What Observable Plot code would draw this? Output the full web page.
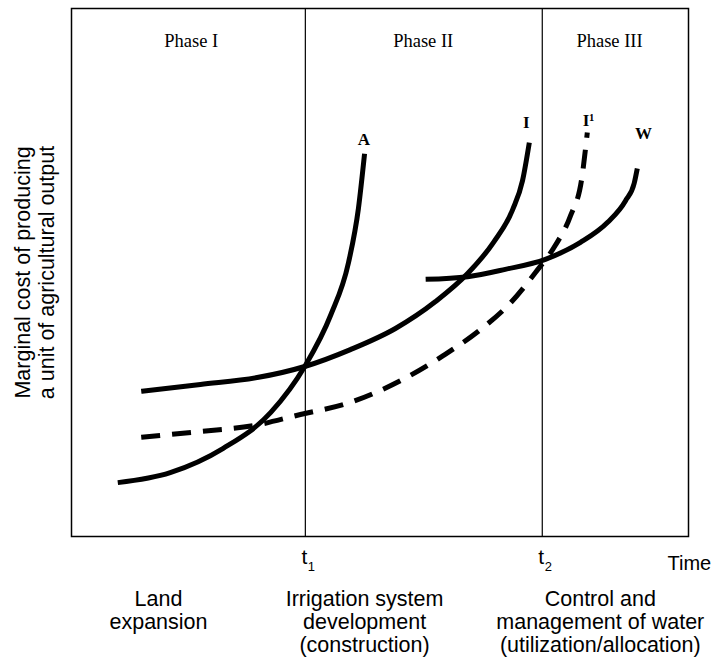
<!DOCTYPE html>
<html><head><meta charset="utf-8">
<script src="https://cdn.jsdelivr.net/npm/d3@7"></script>
<script src="https://cdn.jsdelivr.net/npm/@observablehq/plot@0.6"></script>
<style>html,body{margin:0;padding:0;background:#fff} svg{display:block}</style>
</head><body><div id="chart"></div>
<script>
// Curve A (land expansion cost)
const curveA_x = [7.5, 16.0, 24.6, 32.3, 37.8, 42.0, 44.9, 46.5, 47.5];
const curveA_y = [10.2, 12.1, 16.7, 23.5, 32.2, 41.9, 51.9, 62.1, 72.5];
// Curve I (irrigation development cost)
const curveI_x = [11.3, 20.9, 30.1, 37.8, 45.2, 52.5, 59.0, 64.2, 68.4, 71.5, 73.1, 74.2];
const curveI_y = [27.5, 28.8, 30.1, 32.2, 35.4, 39.4, 44.5, 49.8, 55.7, 61.9, 67.4, 74.6];
// Curve I1 (dashed, shifted irrigation cost)
const curveI1_x = [11.3, 20.9, 29.5, 37.1, 45.2, 53.3, 60.3, 66.3, 71.2, 75.2, 78.4, 80.9, 82.7, 83.6];
const curveI1_y = [18.8, 19.9, 21.0, 23.1, 25.4, 29.5, 34.3, 39.2, 44.3, 50.0, 55.1, 60.8, 67.8, 76.5];
// Curve W (water management cost)
const curveW_x = [57.4, 64.2, 70.3, 76.8, 82.5, 86.9, 89.8, 91.2, 91.7];
const curveW_y = [48.7, 49.2, 50.6, 52.5, 55.7, 59.5, 63.6, 66.9, 69.7];

const curveLabels = ["A", "I", "I\u00b9", "W"];
const curveLabelX = [47.4, 73.7, 83.8, 92.7];
const curveLabelY = [75.2, 78.4, 78.8, 76.3];

const phaseLabels = ["Phase I", "Phase II", "Phase III"];
const phaseX = [19.4, 57.0, 87.2];
const phaseY = [93.9, 93.9, 93.9];

const timeMarks = [37.9, 76.3];
const timeLabels = ["t", "t"];
const timeSubs = ["1", "2"];

const stageLabels = ["Land\nexpansion", "Irrigation system\ndevelopment\n(construction)", "Control and\nmanagement of water\n(utilization/allocation)"];
const stageX = [14.1, 47.5, 85.7];

const yTitle = "Marginal cost of producing\na unit of agricultural output";
const xTitle = "Time";

const toPts = (xs, ys) => xs.map((x, i) => ({x, y: ys[i]}));
const sans = "Liberation Sans, Arial, Helvetica, sans-serif";
const serif = "Liberation Serif, Times New Roman, serif";

const lineStyle = {x: "x", y: "y", stroke: "black", strokeWidth: 5, curve: "monotone-x", strokeLinecap: "butt", strokeLinejoin: "round"};

const chart = Plot.plot({
  width: 711,
  height: 658,
  marginLeft: 71,
  marginRight: 23,
  marginTop: 8,
  marginBottom: 122,
  x: {domain: [0, 100], axis: null},
  y: {domain: [0, 100], axis: null},
  style: {background: "white", overflow: "visible"},
  marks: [
    Plot.frame({stroke: "black", strokeWidth: 1.5}),
    Plot.ruleX(timeMarks, {stroke: "black", strokeWidth: 1.2}),
    Plot.line(toPts(curveA_x, curveA_y), lineStyle),
    Plot.line(toPts(curveI_x, curveI_y), lineStyle),
    Plot.line(toPts(curveW_x, curveW_y), lineStyle),
    Plot.line(toPts(curveI1_x, curveI1_y), {...lineStyle, strokeDasharray: "19,12"}),
    Plot.text(curveLabels, {x: (d, i) => curveLabelX[i], y: (d, i) => curveLabelY[i], text: d => d, fontFamily: serif, fontWeight: "bold", fontSize: 17, fill: "black"}),
    Plot.text(phaseLabels, {x: (d, i) => phaseX[i], y: (d, i) => phaseY[i], text: d => d, fontFamily: serif, fontSize: 18.5, fill: "black"}),
    Plot.text(timeLabels, {x: (d, i) => timeMarks[i], y: () => 0, text: d => d, dy: 13, dx: -1, lineAnchor: "top", fontFamily: sans, fontSize: 21, fill: "black"}),
    Plot.text(timeSubs, {x: (d, i) => timeMarks[i], y: () => 0, text: d => d, dy: 25, dx: 6, lineAnchor: "top", fontFamily: sans, fontSize: 13, fill: "black"}),
    Plot.text([xTitle], {frameAnchor: "bottom-right", text: d => d, dx: -21, dy: 19, textAnchor: "start", lineAnchor: "top", fontFamily: sans, fontSize: 20, fill: "black"}),
    Plot.text(stageLabels, {x: (d, i) => stageX[i], y: () => 0, text: d => d, dy: 53, lineAnchor: "top", lineHeight: 1.08, fontFamily: sans, fontSize: 21.5, fill: "black"}),
    Plot.text([yTitle], {frameAnchor: "left", text: d => d, rotate: -90, dx: -37, textAnchor: "middle", lineAnchor: "middle", lineHeight: 1.1, fontFamily: sans, fontSize: 21.5, fill: "black"})
  ]
});
document.getElementById("chart").appendChild(chart);
</script>
</body></html>
